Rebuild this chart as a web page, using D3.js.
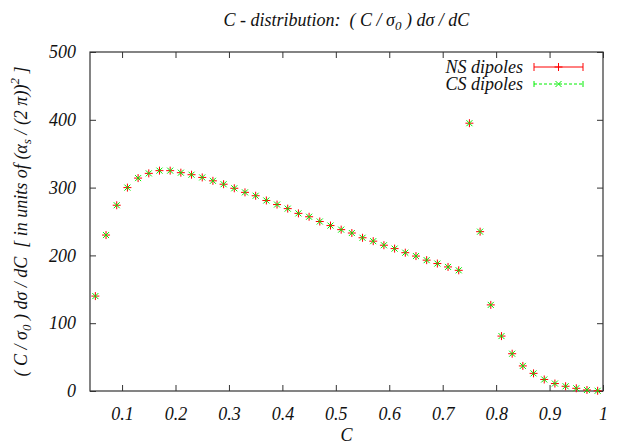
<!DOCTYPE html>
<html>
<head>
<meta charset="utf-8">
<script src="https://cdn.jsdelivr.net/npm/d3@7"></script>
<style>
  body { margin: 0; background: #fff; }
</style>
</head>
<body>
<svg id="chart" width="634" height="444"></svg>
<script>
// bin centres of C and the two dipole results
var cValues = [0.05, 0.07, 0.09, 0.11, 0.13, 0.15, 0.17, 0.19, 0.21, 0.23, 0.25, 0.27,
  0.29, 0.31, 0.33, 0.35, 0.37, 0.39, 0.41, 0.43, 0.45, 0.47, 0.49, 0.51, 0.53, 0.55,
  0.57, 0.59, 0.61, 0.63, 0.65, 0.67, 0.69, 0.71, 0.73, 0.75, 0.77, 0.79, 0.81, 0.83,
  0.85, 0.87, 0.89, 0.91, 0.93, 0.95, 0.97, 0.99];
var nsValues = [140, 230, 274, 300, 314, 321, 325, 325, 322, 319, 315, 310,
  305, 299, 293, 288, 281, 275, 269, 262, 257, 250, 244, 238, 233, 226,
  221, 215, 210, 204, 199, 193, 188, 183, 178, 395, 235, 127, 81, 55,
  37, 26, 17, 11, 7, 4, 1.5, 0.3];
var csValues = [140, 230, 274, 300, 314, 321, 325, 325, 322, 319, 315, 310,
  305, 299, 293, 288, 281, 275, 269, 262, 257, 250, 244, 238, 233, 226,
  221, 215, 210, 204, 199, 193, 188, 183, 178, 395, 235, 127, 81, 55,
  37, 26, 17, 11, 7, 4, 1.5, 0.3];
var xTicks = [0.1, 0.2, 0.3, 0.4, 0.5, 0.6, 0.7, 0.8, 0.9, 1];
var yTicks = [0, 100, 200, 300, 400, 500];

var FONT = "'Liberation Serif', 'Times New Roman', serif";

var margin = { left: 90, right: 31, top: 52, bottom: 53 },
  width = 634 - margin.left - margin.right,
  height = 444 - margin.top - margin.bottom;

var svg = d3.select("#chart");
var g = svg.append("g").attr("transform", "translate(" + margin.left + "," + margin.top + ")");

var x = d3.scaleLinear().domain([0.04, 1]).range([0, width]);
var y = d3.scaleLinear().domain([0, 500]).range([height, 0]);

var tickFmt = function(d) { return d === 1 ? "1" : d3.format("")(d); };

// gnuplot style: ticks inward on all four sides
function styleAxis(sel) {
  sel.select(".domain").remove();
  sel.selectAll(".tick line").attr("stroke", "#333").attr("stroke-width", 1);
  sel.selectAll("text").attr("font-size", 18);
}

g.append("g").attr("transform", "translate(0," + height + ")")
  .call(d3.axisBottom(x).tickValues(xTicks).tickFormat(tickFmt).tickSizeInner(-6).tickPadding(16))
  .call(styleAxis);
g.append("g")
  .call(d3.axisTop(x).tickValues(xTicks).tickSizeInner(-6).tickFormat(""))
  .call(styleAxis);
g.append("g")
  .call(d3.axisLeft(y).tickValues(yTicks).tickSizeInner(-6).tickPadding(14))
  .call(styleAxis);
g.append("g").attr("transform", "translate(" + width + ",0)")
  .call(d3.axisRight(y).tickValues(yTicks).tickSizeInner(-6).tickFormat(""))
  .call(styleAxis);

g.append("rect")
  .attr("width", width).attr("height", height)
  .attr("fill", "none").attr("stroke", "#333").attr("stroke-width", 1.2);

var ns = cValues.map(function(c, i) { return [c, nsValues[i]]; });
var cs = cValues.map(function(c, i) { return [c, csValues[i]]; });

function plus(sel, s) {
  sel.append("path").attr("d", "M" + (-s) + ",0H" + s + "M0," + (-s) + "V" + s);
}
function cross(sel, s) {
  sel.append("path").attr("d", "M" + (-s) + "," + (-s) + "L" + s + "," + s + "M" + (-s) + "," + s + "L" + s + "," + (-s));
}

// NS dipoles: red plus, CS dipoles: green cross on top
g.append("g").attr("stroke", "#ff0000").attr("stroke-width", 1).attr("fill", "none")
  .selectAll("g").data(ns).join("g")
  .attr("transform", function(d) { return "translate(" + x(d[0]) + "," + y(d[1]) + ")"; })
  .each(function() { plus(d3.select(this), 4); });

g.append("g").attr("stroke", "#00ee00").attr("stroke-width", 1).attr("fill", "none")
  .selectAll("g").data(cs).join("g")
  .attr("transform", function(d) { return "translate(" + x(d[0]) + "," + y(d[1]) + ")"; })
  .each(function() { cross(d3.select(this), 3); });

// legend
var legend = svg.append("g");
var lx0 = 534, lx1 = 583;
legend.append("text").attr("x", 523).attr("y", 73).attr("text-anchor", "end").attr("font-size", 18).text("NS dipoles");
legend.append("text").attr("x", 523).attr("y", 90).attr("text-anchor", "end").attr("font-size", 18).text("CS dipoles");
var l1 = legend.append("g").attr("stroke", "#ff0000").attr("fill", "none");
l1.append("path").attr("d", "M" + lx0 + ",67H" + lx1 + "M" + lx0 + ",63V71M" + lx1 + ",63V71");
l1.append("g").attr("transform", "translate(" + ((lx0 + lx1) / 2) + ",67)").call(function(s) { plus(s, 4); });
var l2 = legend.append("g").attr("stroke", "#00ee00").attr("fill", "none");
l2.append("path").attr("d", "M" + lx0 + ",84H" + lx1).attr("stroke-dasharray", "3,2");
l2.append("path").attr("d", "M" + lx0 + ",81V87M" + lx1 + ",81V87");
l2.append("g").attr("transform", "translate(" + ((lx0 + lx1) / 2) + ",84)").call(function(s) { cross(s, 3); });

// title
var title = svg.append("text").attr("x", margin.left + width / 2).attr("y", 26)
  .attr("text-anchor", "middle").attr("font-size", 18).attr("xml:space", "preserve");
title.append("tspan").text("C - distribution:  ( C / σ");
title.append("tspan").attr("font-size", 13).attr("dy", 4).text("0");
title.append("tspan").attr("dy", -4).text(" ) dσ / dC");

// x label
svg.append("text").attr("x", margin.left + width / 2).attr("y", 441)
  .attr("text-anchor", "middle").attr("font-size", 18).text("C");

// y label
var yl = svg.append("text").attr("transform", "translate(27," + (margin.top + height / 2) + ") rotate(-90)")
  .attr("text-anchor", "middle").attr("font-size", 18).attr("xml:space", "preserve");
yl.append("tspan").text("( C / σ");
yl.append("tspan").attr("font-size", 13).attr("dy", 4).text("0");
yl.append("tspan").attr("dy", -4).text(" ) dσ / dC  [ in units of (α");
yl.append("tspan").attr("font-size", 13).attr("dy", 4).text("s");
yl.append("tspan").attr("dy", -4).text(" / (2 π))");
yl.append("tspan").attr("font-size", 13).attr("dy", -8).text("2");
yl.append("tspan").attr("dy", 8).text(" ]");

// every text in italic serif, as in the gnuplot original
svg.selectAll("text").style("font-family", FONT).style("font-style", "italic").attr("fill", "#111");
</script>
</body>
</html>
